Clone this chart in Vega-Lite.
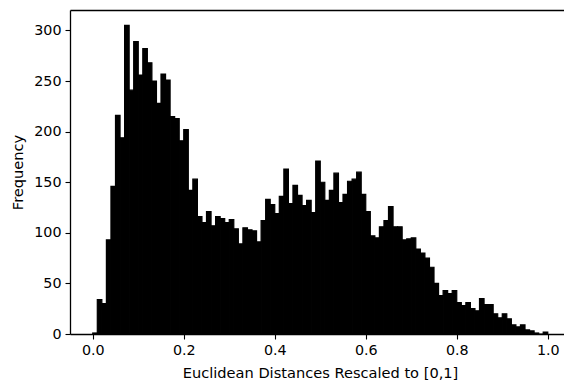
{
  "$schema": "https://vega.github.io/schema/vega-lite/v6.json",
  "autosize": {"type": "none"},
  "padding": {"left": 70, "top": 10, "right": 0, "bottom": 51},
  "width": 494,
  "height": 324,
  "background": "white",
  "config": {
    "view": {"stroke": null},
    "axis": {
      "labelFont": "DejaVu Sans",
      "titleFont": "DejaVu Sans",
      "labelFontSize": 14.3,
      "titleFontSize": 14.6,
      "titleFontWeight": "normal",
      "labelColor": "black",
      "titleColor": "black",
      "domain": true,
      "domainColor": "black",
      "domainOpacity": 1,
      "tickColor": "black",
      "domainWidth": 1.3,
      "tickWidth": 1.1,
      "tickSize": 5,
      "labelPadding": 4,
      "grid": false
    }
  },
  "data": {
    "values": [
      {"bin_start": 0.00, "bin_end": 0.01, "count": 1},
      {"bin_start": 0.01, "bin_end": 0.02, "count": 34},
      {"bin_start": 0.02, "bin_end": 0.03, "count": 30},
      {"bin_start": 0.03, "bin_end": 0.04, "count": 93},
      {"bin_start": 0.04, "bin_end": 0.05, "count": 146},
      {"bin_start": 0.05, "bin_end": 0.06, "count": 216},
      {"bin_start": 0.06, "bin_end": 0.07, "count": 194},
      {"bin_start": 0.07, "bin_end": 0.08, "count": 305},
      {"bin_start": 0.08, "bin_end": 0.09, "count": 241},
      {"bin_start": 0.09, "bin_end": 0.10, "count": 289},
      {"bin_start": 0.10, "bin_end": 0.11, "count": 256},
      {"bin_start": 0.11, "bin_end": 0.12, "count": 282},
      {"bin_start": 0.12, "bin_end": 0.13, "count": 268},
      {"bin_start": 0.13, "bin_end": 0.14, "count": 250},
      {"bin_start": 0.14, "bin_end": 0.15, "count": 228},
      {"bin_start": 0.15, "bin_end": 0.16, "count": 257},
      {"bin_start": 0.16, "bin_end": 0.17, "count": 251},
      {"bin_start": 0.17, "bin_end": 0.18, "count": 215},
      {"bin_start": 0.18, "bin_end": 0.19, "count": 213},
      {"bin_start": 0.19, "bin_end": 0.20, "count": 191},
      {"bin_start": 0.20, "bin_end": 0.21, "count": 202},
      {"bin_start": 0.21, "bin_end": 0.22, "count": 142},
      {"bin_start": 0.22, "bin_end": 0.23, "count": 153},
      {"bin_start": 0.23, "bin_end": 0.24, "count": 116},
      {"bin_start": 0.24, "bin_end": 0.25, "count": 110},
      {"bin_start": 0.25, "bin_end": 0.26, "count": 121},
      {"bin_start": 0.26, "bin_end": 0.27, "count": 107},
      {"bin_start": 0.27, "bin_end": 0.28, "count": 116},
      {"bin_start": 0.28, "bin_end": 0.29, "count": 114},
      {"bin_start": 0.29, "bin_end": 0.30, "count": 110},
      {"bin_start": 0.30, "bin_end": 0.31, "count": 113},
      {"bin_start": 0.31, "bin_end": 0.32, "count": 104},
      {"bin_start": 0.32, "bin_end": 0.33, "count": 89},
      {"bin_start": 0.33, "bin_end": 0.34, "count": 105},
      {"bin_start": 0.34, "bin_end": 0.35, "count": 103},
      {"bin_start": 0.35, "bin_end": 0.36, "count": 102},
      {"bin_start": 0.36, "bin_end": 0.37, "count": 91},
      {"bin_start": 0.37, "bin_end": 0.38, "count": 112},
      {"bin_start": 0.38, "bin_end": 0.39, "count": 133},
      {"bin_start": 0.39, "bin_end": 0.40, "count": 128},
      {"bin_start": 0.40, "bin_end": 0.41, "count": 119},
      {"bin_start": 0.41, "bin_end": 0.42, "count": 136},
      {"bin_start": 0.42, "bin_end": 0.43, "count": 163},
      {"bin_start": 0.43, "bin_end": 0.44, "count": 129},
      {"bin_start": 0.44, "bin_end": 0.45, "count": 147},
      {"bin_start": 0.45, "bin_end": 0.46, "count": 137},
      {"bin_start": 0.46, "bin_end": 0.47, "count": 127},
      {"bin_start": 0.47, "bin_end": 0.48, "count": 132},
      {"bin_start": 0.48, "bin_end": 0.49, "count": 120},
      {"bin_start": 0.49, "bin_end": 0.50, "count": 171},
      {"bin_start": 0.50, "bin_end": 0.51, "count": 150},
      {"bin_start": 0.51, "bin_end": 0.52, "count": 132},
      {"bin_start": 0.52, "bin_end": 0.53, "count": 142},
      {"bin_start": 0.53, "bin_end": 0.54, "count": 159},
      {"bin_start": 0.54, "bin_end": 0.55, "count": 130},
      {"bin_start": 0.55, "bin_end": 0.56, "count": 138},
      {"bin_start": 0.56, "bin_end": 0.57, "count": 151},
      {"bin_start": 0.57, "bin_end": 0.58, "count": 153},
      {"bin_start": 0.58, "bin_end": 0.59, "count": 160},
      {"bin_start": 0.59, "bin_end": 0.60, "count": 138},
      {"bin_start": 0.60, "bin_end": 0.61, "count": 121},
      {"bin_start": 0.61, "bin_end": 0.62, "count": 97},
      {"bin_start": 0.62, "bin_end": 0.63, "count": 95},
      {"bin_start": 0.63, "bin_end": 0.64, "count": 106},
      {"bin_start": 0.64, "bin_end": 0.65, "count": 112},
      {"bin_start": 0.65, "bin_end": 0.66, "count": 126},
      {"bin_start": 0.66, "bin_end": 0.67, "count": 106},
      {"bin_start": 0.67, "bin_end": 0.68, "count": 106},
      {"bin_start": 0.68, "bin_end": 0.69, "count": 93},
      {"bin_start": 0.69, "bin_end": 0.70, "count": 94},
      {"bin_start": 0.70, "bin_end": 0.71, "count": 95},
      {"bin_start": 0.71, "bin_end": 0.72, "count": 84},
      {"bin_start": 0.72, "bin_end": 0.73, "count": 80},
      {"bin_start": 0.73, "bin_end": 0.74, "count": 75},
      {"bin_start": 0.74, "bin_end": 0.75, "count": 66},
      {"bin_start": 0.75, "bin_end": 0.76, "count": 50},
      {"bin_start": 0.76, "bin_end": 0.77, "count": 38},
      {"bin_start": 0.77, "bin_end": 0.78, "count": 43},
      {"bin_start": 0.78, "bin_end": 0.79, "count": 40},
      {"bin_start": 0.79, "bin_end": 0.80, "count": 43},
      {"bin_start": 0.80, "bin_end": 0.81, "count": 31},
      {"bin_start": 0.81, "bin_end": 0.82, "count": 28},
      {"bin_start": 0.82, "bin_end": 0.83, "count": 31},
      {"bin_start": 0.83, "bin_end": 0.84, "count": 25},
      {"bin_start": 0.84, "bin_end": 0.85, "count": 23},
      {"bin_start": 0.85, "bin_end": 0.86, "count": 35},
      {"bin_start": 0.86, "bin_end": 0.87, "count": 29},
      {"bin_start": 0.87, "bin_end": 0.88, "count": 29},
      {"bin_start": 0.88, "bin_end": 0.89, "count": 20},
      {"bin_start": 0.89, "bin_end": 0.90, "count": 16},
      {"bin_start": 0.90, "bin_end": 0.91, "count": 20},
      {"bin_start": 0.91, "bin_end": 0.92, "count": 15},
      {"bin_start": 0.92, "bin_end": 0.93, "count": 9},
      {"bin_start": 0.93, "bin_end": 0.94, "count": 7},
      {"bin_start": 0.94, "bin_end": 0.95, "count": 9},
      {"bin_start": 0.95, "bin_end": 0.96, "count": 4},
      {"bin_start": 0.96, "bin_end": 0.97, "count": 3},
      {"bin_start": 0.97, "bin_end": 0.98, "count": 1},
      {"bin_start": 0.98, "bin_end": 0.99, "count": 0},
      {"bin_start": 0.99, "bin_end": 1.00, "count": 2}
    ]
  },
  "layer": [
    {
      "mark": {"type": "bar", "fill": "black", "stroke": "black", "strokeWidth": 1.2, "strokeOpacity": 1, "fillOpacity": 1},
      "encoding": {
        "x": {
          "field": "bin_start",
          "type": "quantitative",
          "scale": {"domain": [-0.05, 1.0357], "nice": false, "zero": false},
          "axis": {
            "orient": "bottom",
            "domain": true,
            "values": [0, 0.2, 0.4, 0.6, 0.8, 1.0],
            "format": ".1f",
            "title": "Euclidean Distances Rescaled to [0,1]",
            "titleX": 250,
            "titlePadding": 8
          }
        },
        "x2": {"field": "bin_end"},
        "y": {
          "field": "count",
          "type": "quantitative",
          "scale": {"domain": [0, 320.25], "nice": false},
          "axis": {
            "orient": "left",
            "domain": true,
            "values": [0, 50, 100, 150, 200, 250, 300],
            "title": "Frequency",
            "titlePadding": 8
          }
        },
        "y2": {"datum": 0}
      }
    },
    {
      "mark": {"type": "bar", "opacity": 0},
      "encoding": {
        "x": {
          "field": "bin_start",
          "type": "quantitative",
          "axis": {"orient": "top", "labels": false, "ticks": false, "title": null, "domain": true}
        },
        "x2": {"field": "bin_end"},
        "y": {"field": "count", "type": "quantitative", "axis": null},
        "y2": {"datum": 0}
      }
    }
  ],
  "resolve": {"axis": {"x": "independent", "y": "independent"}}
}
